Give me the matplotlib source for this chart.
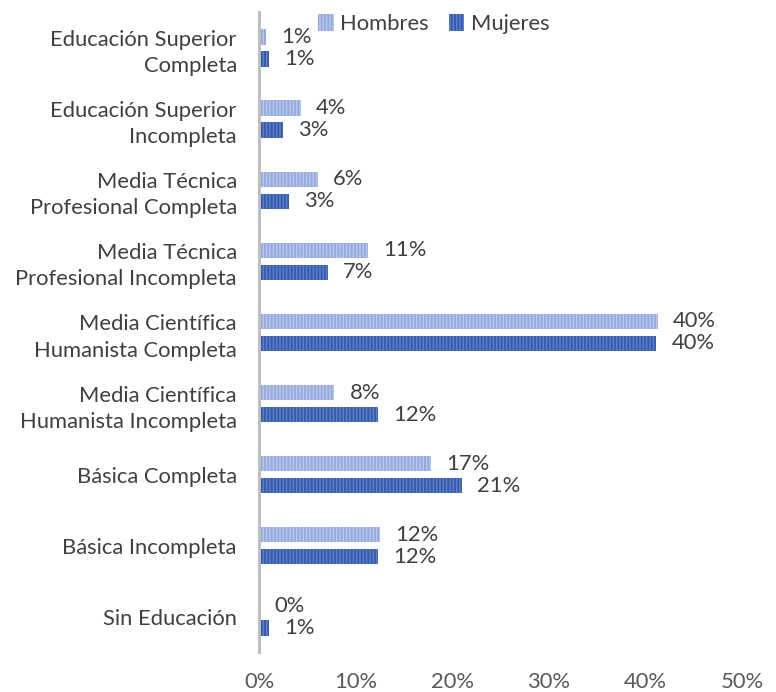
import matplotlib
matplotlib.use("Agg")
import matplotlib.pyplot as plt
import numpy as np

plt.rcParams['font.family'] = ['Lato', 'DejaVu Sans']
plt.rcParams['hatch.linewidth'] = 1.3

categories = [
    "Educación Superior\nCompleta",
    "Educación Superior\nIncompleta",
    "Media Técnica\nProfesional Completa",
    "Media Técnica\nProfesional Incompleta",
    "Media Científica\nHumanista Completa",
    "Media Científica\nHumanista Incompleta",
    "Básica Completa",
    "Básica Incompleta",
    "Sin Educación",
]
hombres = [0.7, 4.3, 6.1, 11.3, 41.3, 7.8, 17.8, 12.5, 0.0]
mujeres = [1.0, 2.5, 3.1, 7.1, 41.1, 12.3, 21.0, 12.3, 1.0]
hombres_labels = ["1%", "4%", "6%", "11%", "40%", "8%", "17%", "12%", "0%"]
mujeres_labels = ["1%", "3%", "3%", "7%", "40%", "12%", "21%", "12%", "1%"]
xticks = [0, 10, 20, 30, 40, 50]
xtick_labels = ["0%", "10%", "20%", "30%", "40%", "50%"]

fig = plt.figure(figsize=(7.76, 6.92), dpi=100)
ax = fig.add_axes([0.3338, 0.0571, 0.6224, 0.925])

n = len(categories)
y = np.arange(n)
off = 0.155
h = 0.215

ax.barh(y - off, hombres, height=h, color='#B9C7EB', edgecolor='#93A9DC',
        linewidth=0, hatch='|||||', label='Hombres')
ax.barh(y + off, mujeres, height=h, color='#5B80CC', edgecolor='#3559A8',
        linewidth=0, hatch='|||||', label='Mujeres')

fs = 15.8
for i in range(n):
    ax.annotate(hombres_labels[i], (hombres[i], y[i] - off), xytext=(11, 0),
                textcoords='offset points', va='center', ha='left',
                fontsize=fs, color='#404040')
    ax.annotate(mujeres_labels[i], (mujeres[i], y[i] + off), xytext=(11, 0),
                textcoords='offset points', va='center', ha='left',
                fontsize=fs, color='#404040')

ax.set_ylim(n - 0.5, -0.5)
ax.set_xlim(0, 50)
ax.set_yticks(y)
ax.set_yticklabels(categories, fontsize=fs, color='#404040', linespacing=1.38)
ax.set_xticks(xticks)
ax.set_xticklabels(xtick_labels, fontsize=fs, color='#595959')
ax.tick_params(axis='both', length=0)
ax.tick_params(axis='y', pad=16)
ax.tick_params(axis='x', pad=14)
for s in ['top', 'right', 'bottom']:
    ax.spines[s].set_visible(False)
ax.spines['left'].set_color('#BFBFBF')
ax.spines['left'].set_linewidth(2.2)

leg = ax.legend(loc='center', bbox_to_anchor=(0.362, 0.982), ncol=2, frameon=False,
                fontsize=fs, handlelength=0.7, handleheight=0.8, handletextpad=0.3,
                columnspacing=0.9, labelcolor='#404040')

fig.savefig('out.png', dpi=100)
